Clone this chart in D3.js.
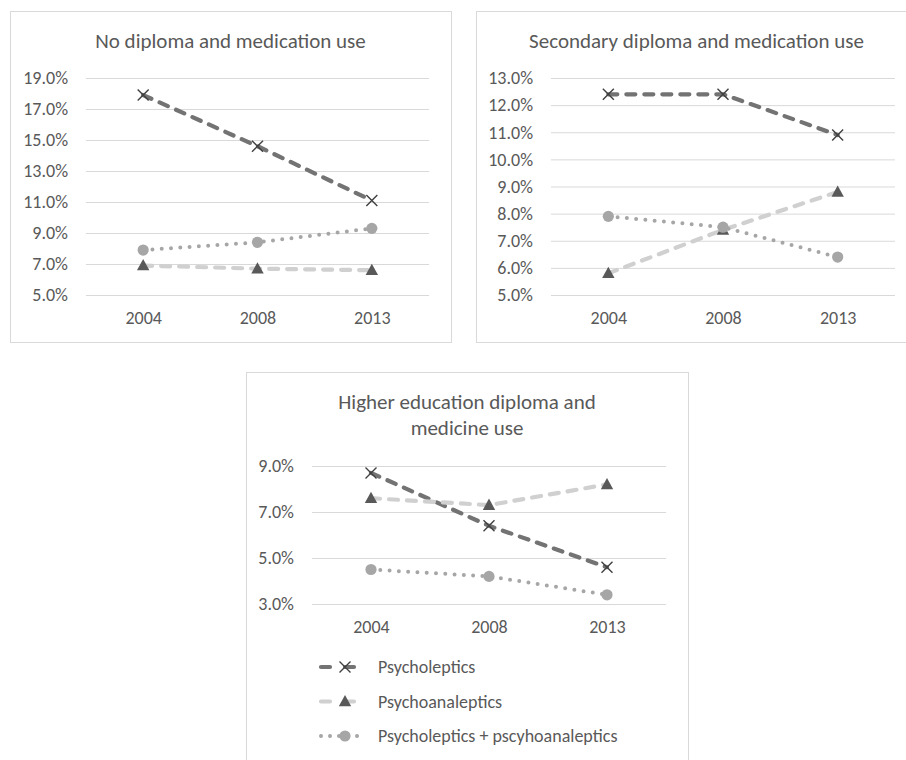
<!DOCTYPE html>
<html>
<head>
<meta charset="utf-8">
<script src="https://cdn.jsdelivr.net/npm/d3@7/dist/d3.min.js"></script>
<style>
  html, body { margin: 0; padding: 0; background: #ffffff; }
  svg { display: block; }
  text { font-family: Carlito, Calibri, Lato, "Open Sans", sans-serif; fill: #595959; }
</style>
</head>
<body>
<svg id="chart" width="906" height="760"></svg>
<script>
// ---------------- DATA ----------------
const years = ["2004", "2008", "2013"];
const seriesNames = ["Psycholeptics", "Psychoanaleptics", "Psycholeptics + pscyhoanaleptics"];

const noDiplomaTitle = ["No diploma and medication use"];
const noDiplomaTicks = [5, 7, 9, 11, 13, 15, 17, 19];
const noDiplomaPsycholeptics = [17.9, 14.6, 11.1];
const noDiplomaPsychoanaleptics = [6.9, 6.7, 6.6];
const noDiplomaCombined = [7.9, 8.4, 9.3];

const secondaryTitle = ["Secondary diploma and medication use"];
const secondaryTicks = [5, 6, 7, 8, 9, 10, 11, 12, 13];
const secondaryPsycholeptics = [12.4, 12.4, 10.9];
const secondaryPsychoanaleptics = [5.8, 7.4, 8.8];
const secondaryCombined = [7.9, 7.5, 6.4];

const higherTitle = ["Higher education diploma and", "medicine use"];
const higherTicks = [3, 5, 7, 9];
const higherPsycholeptics = [8.7, 6.4, 4.6];
const higherPsychoanaleptics = [7.6, 7.3, 8.2];
const higherCombined = [4.5, 4.2, 3.4];

// ---------------- STYLES ----------------
const seriesStyles = [
  { stroke: "#737373", dash: "9 9", marker: "x" },
  { stroke: "#d0d0d0", dash: "9 9", marker: "triangle" },
  { stroke: "#a6a6a6", dash: "0 9.3", marker: "circle" }
];
const FONT = "Carlito, Calibri, Lato, sans-serif";
const TICK_SIZE = 18;
const TITLE_SIZE = 21;

const svg = d3.select("#chart");

function drawMarker(g, type, x, y) {
  if (type === "x") {
    const s = 5.5;
    g.append("path")
      .attr("d", `M${x - s},${y - s}L${x + s},${y + s}M${x - s},${y + s}L${x + s},${y - s}`)
      .attr("stroke", "#404040").attr("stroke-width", 1.4).attr("fill", "none");
  } else if (type === "triangle") {
    g.append("path")
      .attr("d", `M${x},${y - 6.5}L${x + 6.2},${y + 4.8}L${x - 6.2},${y + 4.8}Z`)
      .attr("fill", "#595959");
  } else {
    g.append("circle").attr("cx", x).attr("cy", y).attr("r", 5.6).attr("fill", "#a6a6a6");
  }
}

function drawPanel(cfg) {
  const g = svg.append("g");
  g.append("rect")
    .attr("x", cfg.box[0] + 0.5).attr("y", cfg.box[1] + 0.5)
    .attr("width", cfg.box[2] - cfg.box[0]).attr("height", cfg.box[3] - cfg.box[1])
    .attr("fill", "#ffffff").attr("stroke", "#d9d9d9").attr("stroke-width", 1);

  const x = d3.scalePoint().domain(years).range([cfg.plot[0], cfg.plot[1]]).padding(0.5);
  const y = d3.scaleLinear().domain(d3.extent(cfg.ticks)).range([cfg.plot[3], cfg.plot[2]]);

  const cx = (cfg.box[0] + cfg.box[2]) / 2;
  cfg.title.forEach((t, i) => {
    g.append("text").attr("x", cx).attr("y", cfg.titleY + i * 26)
      .attr("text-anchor", "middle").attr("font-size", TITLE_SIZE).text(t);
  });

  const yAxis = d3.axisLeft(y).tickValues(cfg.ticks)
    .tickSize(-(cfg.plot[1] - cfg.plot[0])).tickPadding(18)
    .tickFormat(d => d3.format(".1f")(d) + "%");
  const ya = g.append("g").attr("transform", `translate(${cfg.plot[0]},0)`).call(yAxis);
  ya.select(".domain").remove();
  ya.selectAll(".tick line").attr("stroke", "#d9d9d9").attr("stroke-width", 1);
  ya.selectAll(".tick text").attr("font-size", TICK_SIZE).attr("fill", "#595959")
    .style("font-family", FONT);

  const xAxis = d3.axisBottom(x).tickSize(0).tickPadding(cfg.xLabelPad);
  const xa = g.append("g").attr("transform", `translate(0,${cfg.plot[3]})`).call(xAxis);
  xa.select(".domain").remove();
  xa.selectAll(".tick text").attr("font-size", TICK_SIZE).attr("fill", "#595959")
    .style("font-family", FONT);

  const line = d3.line().x((d, i) => x(years[i])).y(d => y(d));
  cfg.series.forEach((vals, si) => {
    const st = seriesStyles[si];
    g.append("path").datum(vals).attr("d", line)
      .attr("fill", "none").attr("stroke", st.stroke)
      .attr("stroke-width", si === 2 ? 4 : 4.2)
      .attr("stroke-dasharray", st.dash)
      .attr("stroke-linecap", "round");
  });
  cfg.series.forEach((vals, si) => {
    vals.forEach((v, i) => drawMarker(g, seriesStyles[si].marker, x(years[i]), y(v)));
  });
  return g;
}

drawPanel({
  box: [10, 11, 451, 342], plot: [86, 429, 78, 295],
  title: noDiplomaTitle, titleY: 48, ticks: noDiplomaTicks, xLabelPad: 16,
  series: [noDiplomaPsycholeptics, noDiplomaPsychoanaleptics, noDiplomaCombined]
});
drawPanel({
  box: [476, 11, 917, 342], plot: [551, 895, 78, 295],
  title: secondaryTitle, titleY: 48, ticks: secondaryTicks, xLabelPad: 16,
  series: [secondaryPsycholeptics, secondaryPsychoanaleptics, secondaryCombined]
});
const p3 = drawPanel({
  box: [246, 372, 688, 780], plot: [312, 666, 466, 604],
  title: higherTitle, titleY: 409, ticks: higherTicks, xLabelPad: 16,
  series: [higherPsycholeptics, higherPsychoanaleptics, higherCombined]
});

// legend
const legendY = d3.scalePoint().domain(seriesNames).range([667, 736]);
seriesNames.forEach((name, si) => {
  const st = seriesStyles[si];
  const ly = legendY(name);
  p3.append("path").attr("d", `M321,${ly}L366,${ly}`)
    .attr("fill", "none").attr("stroke", st.stroke)
    .attr("stroke-width", si === 2 ? 4 : 4.2)
    .attr("stroke-dasharray", si === 2 ? "0 9" : "9 15")
    .attr("stroke-linecap", "round");
  drawMarker(p3, st.marker, 345, ly);
  p3.append("text").attr("x", 378).attr("y", ly + 6)
    .attr("font-size", TICK_SIZE).text(name);
});
</script>
</body>
</html>
